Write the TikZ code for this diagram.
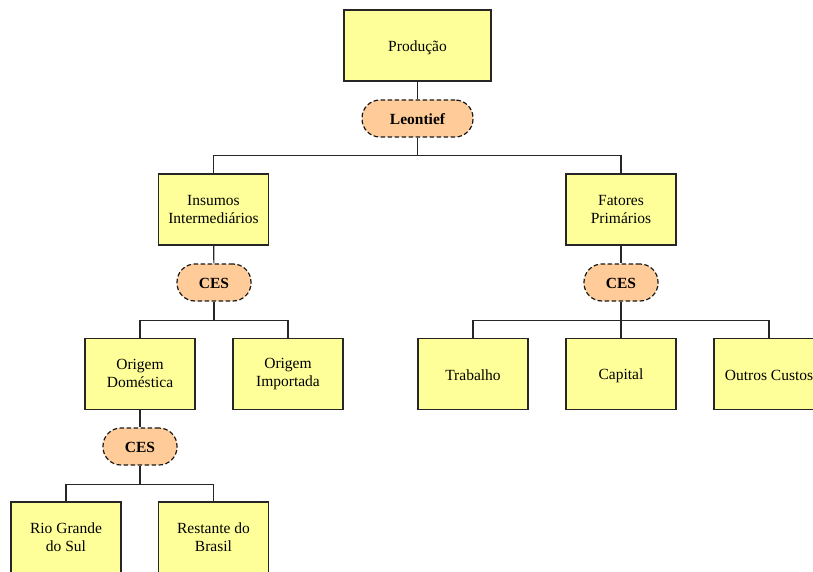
\documentclass[tikz,border=0pt]{standalone}
\usepackage{fontspec}
\setmainfont{Liberation Serif}
\definecolor{boxyellow}{HTML}{FFFF99}
\definecolor{pillpeach}{HTML}{FFCC99}
\newcommand{\topstrut}{\rule{0pt}{15pt}}
\newcommand{\botstrut}{\rule[-3pt]{0pt}{3pt}}
\newcommand{\toptwostrut}{\rule{0pt}{17pt}}
\newcommand{\bottwostrut}{\rule[-1pt]{0pt}{1pt}}
\tikzset{
  boxbase/.style={draw=black!85, line width=1.2pt, fill=boxyellow, minimum width=110pt, minimum height=71pt,
    inner sep=0pt, align=center, font=\fontsize{15.5}{18}\selectfont},
  box/.style={boxbase, execute at begin node=\topstrut, execute at end node=\botstrut},
  boxtwo/.style={boxbase, execute at begin node=\toptwostrut, execute at end node=\bottwostrut},
  pill/.style={draw=black!90, line width=1.2pt, dash pattern=on 4.5pt off 2.5pt, fill=pillpeach,
    rounded corners=18pt, minimum height=37pt, inner sep=0pt, font=\fontsize{15.5}{18}\selectfont\bfseries,
    execute at begin node=\topstrut, execute at end node=\botstrut},
  link/.style={draw=black!85, line width=1.2pt}
}
\begin{document}
\begin{tikzpicture}[x=1pt,y=-1pt]
\useasboundingbox (0,0) rectangle (813,572);
% top
\node[box, minimum width=147pt] (prod) at (417.5,45.5) {Produção};
\node[pill, minimum width=111pt] (leo) at (417.5,118.5) {Leontief};
% level 2
\node[boxtwo] (ins) at (213.5,209.5) {Insumos\\Intermediários};
\node[boxtwo] (fat) at (621,209.5) {Fatores\\Primários};
\node[pill, minimum width=74pt] (cesL) at (214,282.5) {CES};
\node[pill, minimum width=74pt] (cesR) at (621,282.5) {CES};
% level 3
\node[boxtwo] (dom) at (140,374) {Origem\\Doméstica};
\node[boxtwo] (imp) at (288,374) {Origem\\Importada};
\node[box] (trab) at (473,374) {Trabalho};
\node[box] (cap) at (621,374) {Capital};
\node[box] (out) at (769,374) {Outros Custos};
\node[pill, minimum width=74pt] (cesB) at (140,446.5) {CES};
% level 4
\node[boxtwo] (rio) at (66,537.5) {Rio Grande\\do Sul};
\node[boxtwo] (rest) at (213.5,537.5) {Restante do\\Brasil};
% connectors
\draw[link] (prod) -- (leo);
\draw[link] (leo.south) -- ++(0,18) -| (ins.north);
\draw[link] (leo.south) -- ++(0,18) -| (fat.north);
\draw[link] (ins) -- (cesL);
\draw[link] (fat) -- (cesR);
\draw[link] (cesL.south) -- ++(0,18.5) -| (dom.north);
\draw[link] (cesL.south) -- ++(0,18.5) -| (imp.north);
\draw[link] (cesR.south) -- ++(0,18.5) -| (trab.north);
\draw[link] (cesR) -- (cap);
\draw[link] (cesR.south) -- ++(0,18.5) -| (out.north);
\draw[link] (dom) -- (cesB);
\draw[link] (cesB.south) -- ++(0,18.5) -| (rio.north);
\draw[link] (cesB.south) -- ++(0,18.5) -| (rest.north);
\end{tikzpicture}
\end{document}
